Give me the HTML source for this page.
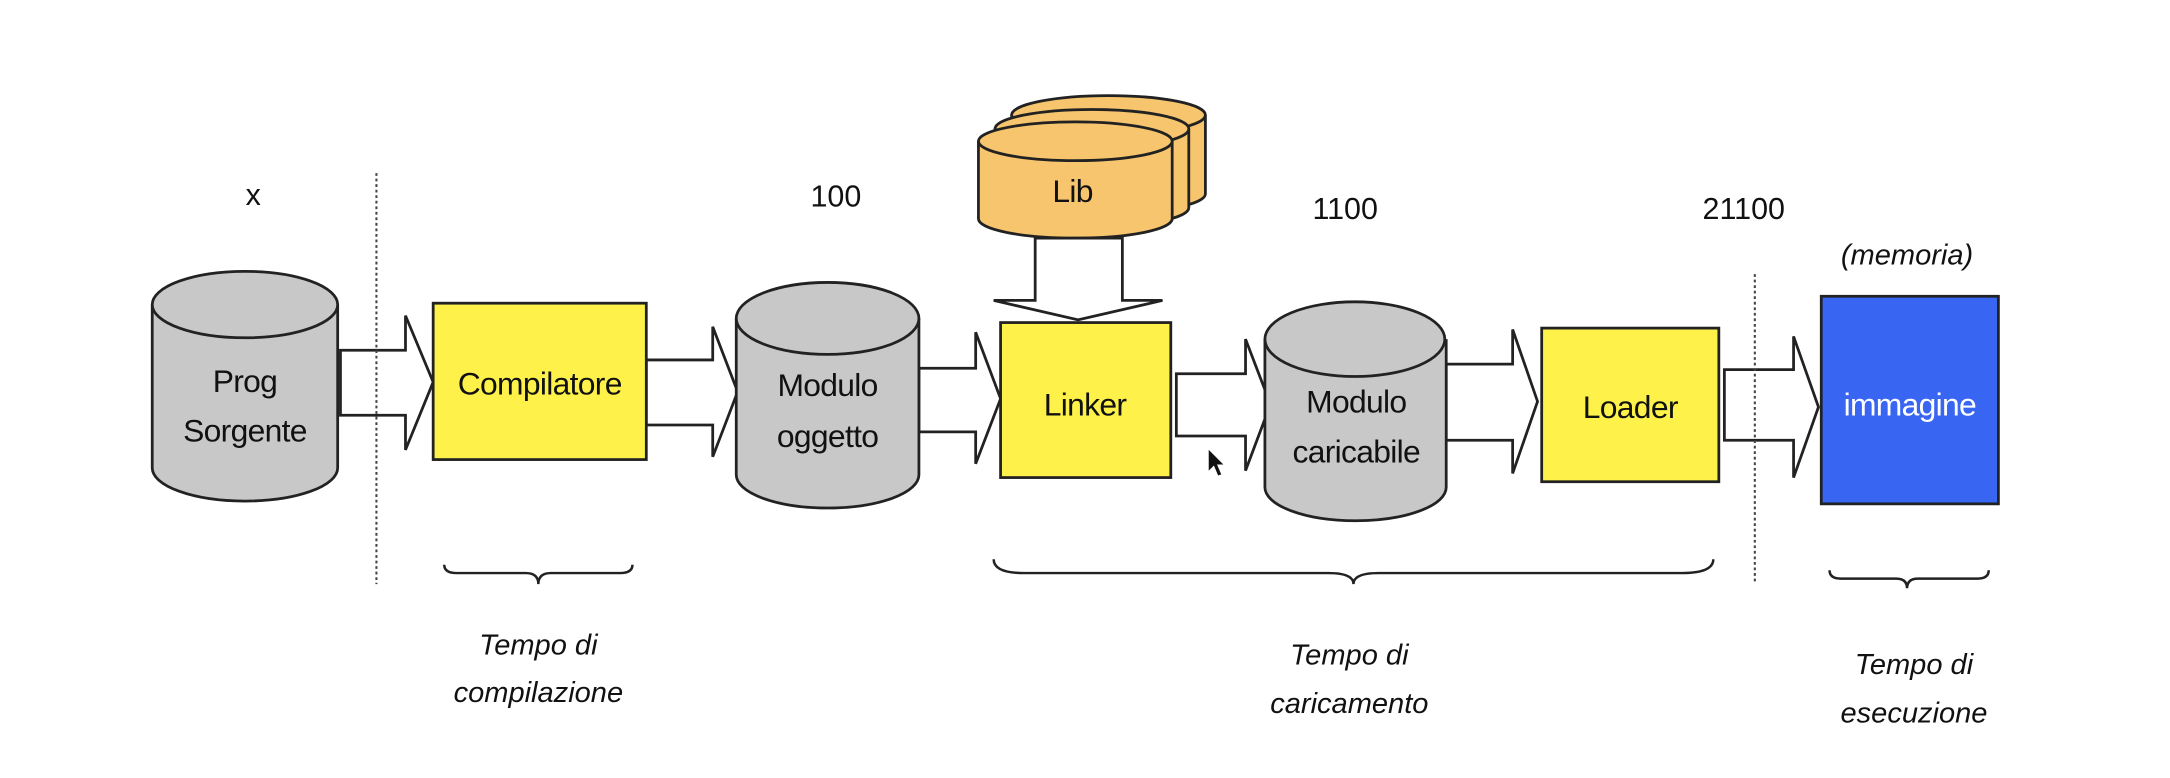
<!DOCTYPE html>
<html><head><meta charset="utf-8"><style>
html,body{margin:0;padding:0;background:#fff;}
svg{display:block;}
.t{font-family:"Liberation Sans",Arial,sans-serif;font-size:23px;fill:#111;text-anchor:middle;letter-spacing:-0.5px;}
.n{font-family:"Liberation Sans",Arial,sans-serif;font-size:22px;fill:#111;text-anchor:middle;}
.i{font-family:"Liberation Sans",Arial,sans-serif;font-style:italic;font-size:21px;fill:#111;text-anchor:middle;}
</style></head><body>
<svg width="2170" height="778" viewBox="0 0 1568 562" xmlns="http://www.w3.org/2000/svg">
<rect width="1568" height="562" fill="#fff"/>
<g stroke="#222" stroke-width="2" fill="#fff">
<!-- arrows -->
<polygon points="246,253 293,253 293,228 313,276 293,325 293,300 246,300"/>
<polygon points="467,260 515,260 515,236 533,283 515,330 515,307 467,307"/>
<polygon points="664,266 705,266 705,240 723,288 705,335 705,312 664,312"/>
<polygon points="850,270 900,270 900,245 918,292 900,340 900,315 850,315"/>
<polygon points="1045,263 1093,263 1093,238 1111,290 1093,342 1093,318 1045,318"/>
<polygon points="1246,267 1296,267 1296,243 1314,294 1296,345 1296,318 1246,318"/>
</g>
<!-- dotted lines -->
<line x1="272" y1="125" x2="272" y2="422" stroke="#444" stroke-width="1.5" stroke-dasharray="2,2"/>
<line x1="1268" y1="198" x2="1268" y2="420" stroke="#444" stroke-width="1.5" stroke-dasharray="2,2"/>
<!-- cylinders gray -->
<g stroke="#222" stroke-width="2" fill="#c8c8c8">
<path d="M110,220 V338 A67,24 0 0 0 244,338 V220"/>
<ellipse cx="177" cy="220" rx="67" ry="24"/>
<path d="M532,230 V343 A66,24 0 0 0 664,343 V230"/>
<ellipse cx="598" cy="230" rx="66" ry="26"/>
<path d="M914,245 V352 A65,24 0 0 0 1045,352 V245"/>
<ellipse cx="979" cy="245" rx="65" ry="27"/>
</g>
<!-- Lib stack -->
<g stroke="#222" stroke-width="2" fill="#f6c56e">
<path d="M731,83 V140 A66,13 0 0 0 871,140 V83"/>
<ellipse cx="801" cy="83" rx="70" ry="14"/>
<path d="M719,93 V150 A66,13 0 0 0 859,150 V93"/>
<ellipse cx="789" cy="93" rx="70" ry="14"/>
<path d="M707,102 V158 A70,14 0 0 0 847,158 V102"/>
<ellipse cx="777" cy="102" rx="70" ry="14"/>
</g>
<polygon points="748,172 811,172 811,217 840,217 779,231 718,217 748,217" fill="#fff" stroke="#222" stroke-width="2"/>
<!-- boxes -->
<g stroke="#222" stroke-width="2">
<rect x="313" y="219" width="154" height="113" fill="#fef24a"/>
<rect x="723" y="233" width="123" height="112" fill="#fef24a"/>
<rect x="1114" y="237" width="128" height="111" fill="#fef24a"/>
<rect x="1316" y="214" width="128" height="150" fill="#3866f2"/>
</g>
<!-- texts -->
<text class="t" x="177" y="283">Prog</text>
<text class="t" x="177" y="319">Sorgente</text>
<text class="t" x="390" y="285">Compilatore</text>
<text class="t" x="598" y="286">Modulo</text>
<text class="t" x="598" y="323">oggetto</text>
<text class="t" x="784" y="300">Linker</text>
<text class="t" x="980" y="298">Modulo</text>
<text class="t" x="980" y="334">caricabile</text>
<text class="t" x="1178" y="302">Loader</text>
<text class="t" x="1380" y="300" style="fill:#fff">immagine</text>
<text class="t" x="775" y="146">Lib</text>
<text class="n" x="183" y="148">x</text>
<text class="n" x="604" y="149">100</text>
<text class="n" x="972" y="158">1100</text>
<text class="n" x="1260" y="158">21100</text>
<text class="i" x="1378" y="191">(memoria)</text>
<!-- braces -->
<g fill="none" stroke="#222" stroke-width="1.8">
<path d="M321,408 Q321,414 330,414 L380,414 Q389,414 389,422 Q389,414 398,414 L448,414 Q457,414 457,408"/>
<path d="M718,404 Q718,414 740,414 L960,414 Q978,414 978,422 Q978,414 996,414 L1215,414 Q1238,414 1238,404"/>
<path d="M1322,412 Q1322,418 1330,418 L1370,418 Q1378,418 1378,425 Q1378,418 1386,418 L1429,418 Q1437,418 1437,412"/>
</g>
<text class="i" x="389" y="473">Tempo di</text>
<text class="i" x="389" y="507">compilazione</text>
<text class="i" x="975" y="480">Tempo di</text>
<text class="i" x="975" y="515">caricamento</text>
<text class="i" x="1383" y="487">Tempo di</text>
<text class="i" x="1383" y="522">esecuzione</text>
<!-- cursor -->
<polygon points="873,324 873,341 877,337 880,344 883,343 880,336 885,336" fill="#111" stroke="#fff" stroke-width="0.8"/>
</svg>
</body></html>
